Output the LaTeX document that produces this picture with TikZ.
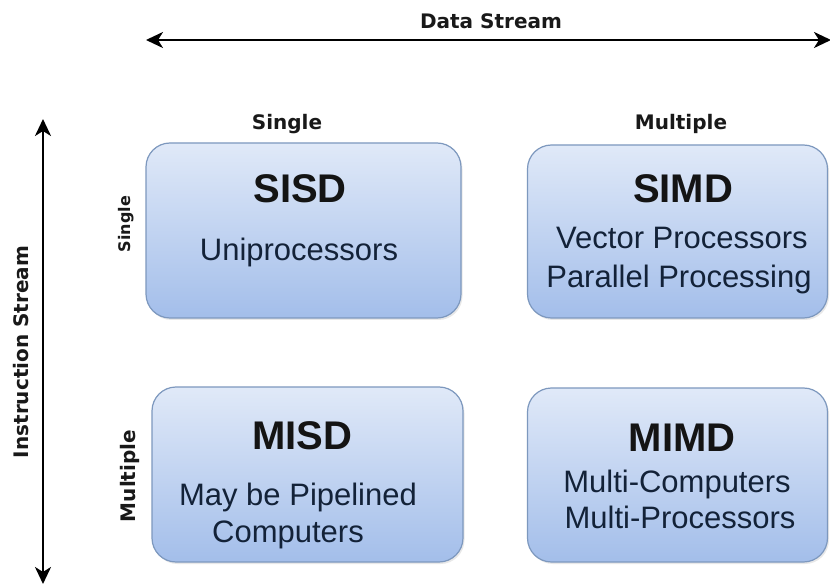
\documentclass[tikz,border=0pt]{standalone}
\usepackage{fontspec}
\setmainfont{Liberation Sans}
\newfontfamily\axisfont{DejaVu Sans}
\usetikzlibrary{arrows.meta,shadows}
\definecolor{boxtop}{HTML}{E0E9F8}
\definecolor{boxbot}{HTML}{A3BEEA}
\definecolor{boxedge}{HTML}{7D98BE}
\definecolor{navy}{HTML}{132238}
\tikzset{
  cell/.style={draw=boxedge, line width=1.2pt, rounded corners=24pt,
    top color=boxtop, bottom color=boxbot,
    drop shadow={shadow xshift=1.5pt, shadow yshift=-2pt, opacity=0.18},
    inner sep=0pt},
  head/.style={font=\fontsize{40}{44}\selectfont\bfseries, text=black!92, anchor=base, inner sep=0pt},
  body/.style={font=\fontsize{31}{34}\selectfont, text=navy, anchor=base, inner sep=0pt},
  axis/.style={font=\axisfont\fontsize{20}{22}\selectfont\bfseries, text=black!90},
  stream/.style={line width=2.6pt, {Stealth[length=17pt,width=16pt,inset=5pt]}-{Stealth[length=17pt,width=16pt,inset=5pt]}},
}
\begin{document}
\begin{tikzpicture}[x=1pt,y=-1pt]
\useasboundingbox[fill=white] (0,0) rectangle (830,585);

% axes
\coordinate (dl) at (146,40);
\coordinate (dr) at (831,40);
\coordinate (it) at (43,119);
\coordinate (ib) at (43,584);
\draw[stream] (dl) -- (dr);
\draw[stream] (it) -- (ib);
\node[axis] (dlab) at (491,21) {Data Stream};
\node[axis, rotate=90] (ilab) at (21,352) {Instruction Stream};

% column and row headings
\node[axis] (cs) at (287,124) {Single};
\node[axis] (cm) at (681,124) {Multiple};
\node[axis, font=\axisfont\fontsize{16}{18}\selectfont\bfseries, rotate=90] (rs) at (126,224) {Single};
\node[axis, rotate=90] (rm) at (130,476) {Multiple};

% the four classes
\node[cell, minimum width=315pt, minimum height=175pt] (sisd) at (303.5,230.5) {};
\node[cell, minimum width=300pt, minimum height=173pt] (simd) at (677.5,231.5) {};
\node[cell, minimum width=311pt, minimum height=175pt] (misd) at (307.5,474.5) {};
\node[cell, minimum width=300pt, minimum height=174pt] (mimd) at (677.5,475) {};

\node[head] (t1) at (300,203) {SISD};
\node[body] (b1) at (299,261) {Uniprocessors};

\node[head] (t2) at (683,203) {SIMD};
\node[body] (b2a) at (682,249) {Vector Processors};
\node[body] (b2b) at (679,288) {Parallel Processing};

\node[head] (t3) at (302,449) {MISD};
\node[body] (b3a) at (298,505) {May be Pipelined};
\node[body] (b3b) at (288,542) {Computers};

\node[head] (t4) at (682,451) {MIMD};
\node[body] (b4a) at (677,492) {Multi-Computers};
\node[body] (b4b) at (680,528) {Multi-Processors};
\end{tikzpicture}
\end{document}
